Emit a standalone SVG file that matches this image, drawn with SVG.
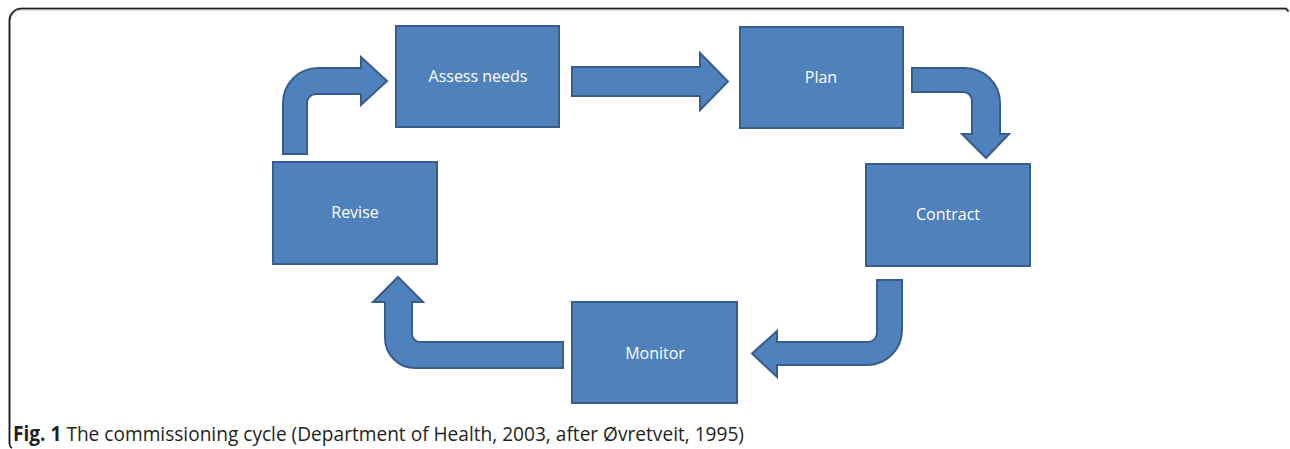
<svg xmlns="http://www.w3.org/2000/svg" width="1290" height="449" viewBox="0 0 1290 449">
<style>
.box{fill:#4F81BD;stroke:#385D8A;stroke-width:2}
.arr{fill:#4F81BD;stroke:#385D8A;stroke-width:2;stroke-linejoin:miter}
.lbl{font-family:"Open Sans","Liberation Sans",sans-serif;font-size:16px;fill:#FFFFFF;text-anchor:middle}
.cap{font-family:"Open Sans","Liberation Sans",sans-serif;font-size:20.5px;fill:#231F20}
</style>
<rect width="1290" height="449" fill="#FFFFFF"/>
<path d="M9.5 444 L9.5 21 A12 12 0 0 1 21.5 9 L1286 9 L1288.5 11" fill="none" stroke="#C8C8C8" stroke-width="3"/>
<path d="M12 448 Q9.5 447 9.5 443 L9.5 21 A12 12 0 0 1 21.5 8.5 L1286 8.5 L1288.5 11.5" fill="none" stroke="#1A1A1A" stroke-width="1.5"/>
<g id="connectors">
<path class="arr" d="M572 67 L700 67 L700 53 L728 81.5 L700 110 L700 96 L572 96 Z"/>
<path class="arr" d="M283 154 L283 103 A35 35 0 0 1 318 68 L361 68 L361 57 L387 81 L361 105 L361 94 L316 94 A9 9 0 0 0 307 103 L307 154 Z"/>
<path class="arr" d="M912 68 L965 68 A35 35 0 0 1 1000 103 L1000 134 L1009 134 L986 158 L962 134 L972 134 L972 101 A9 9 0 0 0 963 92 L912 92 Z"/>
<path class="arr" d="M877 280 L902 280 L902 330 A35 35 0 0 1 867 365 L777 365 L777 377 L752 353.5 L777 331 L777 342 L868 342 A9 9 0 0 0 877 333 Z"/>
<path class="arr" d="M563 342 L563 368 L415 368 A30 30 0 0 1 385 338 L385 302 L373 302 L398 277 L423 302 L412 302 L412 334 A8 8 0 0 0 420 342 Z"/>
</g>
<g id="assess">
<rect class="box" x="396" y="26" width="163" height="101"/>
<text class="lbl" x="478" y="82">Assess needs</text>
</g>
<g id="plan">
<rect class="box" x="740" y="27" width="163" height="101"/>
<text class="lbl" x="821" y="83">Plan</text>
</g>
<g id="contract">
<rect class="box" x="866" y="164" width="164" height="102"/>
<text class="lbl" x="948" y="220">Contract</text>
</g>
<g id="monitor">
<rect class="box" x="572" y="302" width="165" height="101"/>
<text class="lbl" x="655" y="359">Monitor</text>
</g>
<g id="revise">
<rect class="box" x="273" y="162" width="164" height="102"/>
<text class="lbl" x="355" y="218">Revise</text>
</g>
<text class="cap" x="13" y="441" textLength="731" lengthAdjust="spacingAndGlyphs"><tspan font-weight="bold">Fig. 1</tspan> The commissioning cycle (Department of Health, 2003, after Øvretveit, 1995)</text>
</svg>
